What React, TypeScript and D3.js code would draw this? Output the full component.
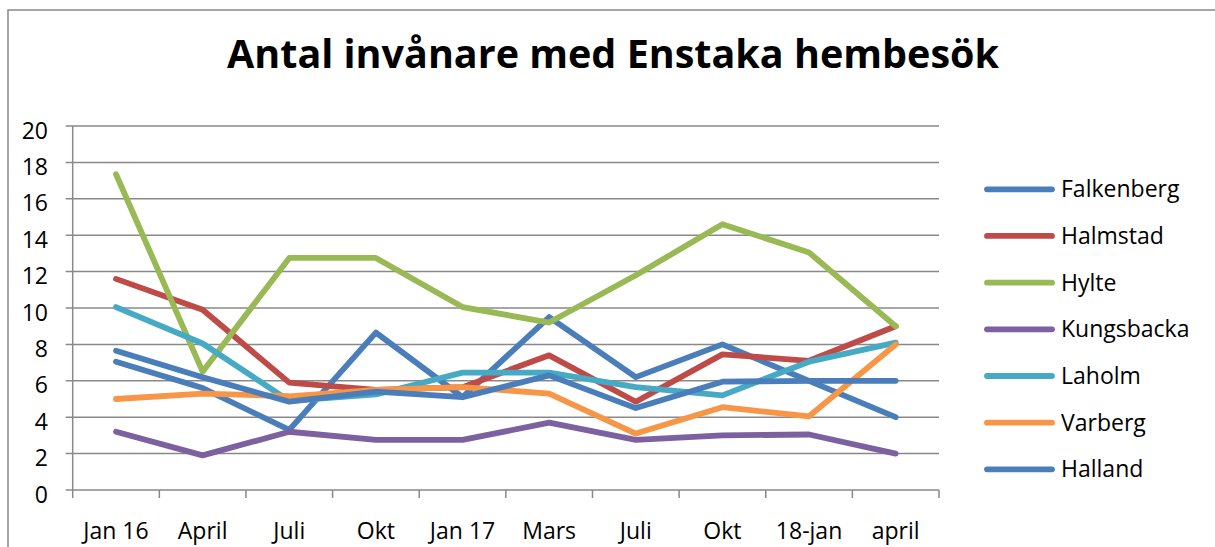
import React from 'react';
import * as d3 from 'd3';

const categories = ['Jan 16', 'April', 'Juli', 'Okt', 'Jan 17', 'Mars', 'Juli', 'Okt', '18-jan', 'april'];
const yTicks = [0, 2, 4, 6, 8, 10, 12, 14, 16, 18, 20];

const falkenberg = [7.05, 5.6, 3.3, 8.65, 5.1, 9.5, 6.2, 8.0, 6.0, 4.0];
const halmstad = [11.6, 9.9, 5.9, 5.5, 5.65, 7.4, 4.85, 7.45, 7.1, 9.0];
const hylte = [17.35, 6.5, 12.75, 12.75, 10.05, 9.2, 11.8, 14.6, 13.05, 9.0];
const kungsbacka = [3.2, 1.9, 3.2, 2.75, 2.75, 3.7, 2.75, 3.0, 3.05, 2.0];
const laholm = [10.05, 8.05, 4.9, 5.25, 6.45, 6.45, 5.65, 5.2, 7.05, 8.1];
const varberg = [5.0, 5.3, 5.15, 5.5, 5.65, 5.3, 3.1, 4.55, 4.05, 8.0];
const halland = [7.65, 6.2, 4.85, 5.4, 5.1, 6.3, 4.5, 5.95, 6.0, 6.0];

const seriesNames = ['Falkenberg', 'Halmstad', 'Hylte', 'Kungsbacka', 'Laholm', 'Varberg', 'Halland'];
const seriesValues = [falkenberg, halmstad, hylte, kungsbacka, laholm, varberg, halland];
const seriesColors = ['#4a7ebb', '#be4b48', '#98b954', '#7d60a0', '#46aac5', '#f79646', '#4a7ebb'];

const W = 1215;
const H = 547;
const plot = { left: 72.7, right: 939, top: 126, bottom: 490 };
const font = '"Open Sans", sans-serif';
const gridColor = '#898989';

export default function App() {
  const x = d3.scaleBand<number>()
    .domain(categories.map((_, i) => i))
    .range([plot.left, plot.right])
    .padding(0);
  const y = d3.scaleLinear().domain([0, 20]).range([plot.bottom, plot.top]);

  const line = d3.line<number>()
    .x((_, i) => (x(i) ?? 0) + x.bandwidth() / 2)
    .y(d => y(d));

  const legendX = 987;
  const legendY = 189.3;
  const legendStep = 46.67;

  return (
    <svg width={W} height={H} style={{ position: 'absolute', left: 0, top: 0, background: '#fff' }}>
      {/* chart frame */}
      <rect x={8} y={10} width={W + 20} height={H + 20} fill="#fff" stroke={gridColor} strokeWidth={1.5} />

      <text x={613} y={68} textAnchor="middle" fontFamily={font} fontWeight="bold" fontSize={39.5} fill="#000">
        Antal invånare med Enstaka hembesök
      </text>

      {/* Grid + y axis */}
      {yTicks.map(t => (
        <g key={t}>
          <line x1={plot.left - 7} x2={plot.right} y1={y(t)} y2={y(t)} stroke={gridColor} strokeWidth={1.5} />
          <text x={48} y={y(t) + 12.5} textAnchor="end" fontFamily={font} fontSize={23} fill="#000">{t}</text>
        </g>
      ))}
      <line x1={plot.left} x2={plot.left} y1={plot.top} y2={plot.bottom} stroke={gridColor} strokeWidth={1.5} />

      {/* x axis ticks and labels */}
      {d3.range(categories.length + 1).map(i => {
        const px = i < categories.length ? (x(i) ?? 0) : plot.right;
        return <line key={i} x1={px} x2={px} y1={plot.bottom} y2={plot.bottom + 8} stroke={gridColor} strokeWidth={1.5} />;
      })}
      {categories.map((c, i) => (
        <text key={i} x={(x(i) ?? 0) + x.bandwidth() / 2} y={539} textAnchor="middle" fontFamily={font} fontSize={23} fill="#000">
          {c}
        </text>
      ))}

      {/* Series */}
      {seriesValues.map((vals, s) => (
        <path key={s} d={line(vals) ?? ''} fill="none" stroke={seriesColors[s]} strokeWidth={5.8}
          strokeLinejoin="round" strokeLinecap="round" />
      ))}

      {/* Legend */}
      {seriesNames.map((name, s) => (
        <g key={name} transform={`translate(${legendX}, ${legendY + s * legendStep})`}>
          <line x1={0} x2={65} y1={0} y2={0} stroke={seriesColors[s]} strokeWidth={5.8} strokeLinecap="round" />
          <text x={74} y={8} fontFamily={font} fontSize={23} fill="#000">{name}</text>
        </g>
      ))}
    </svg>
  );
}
